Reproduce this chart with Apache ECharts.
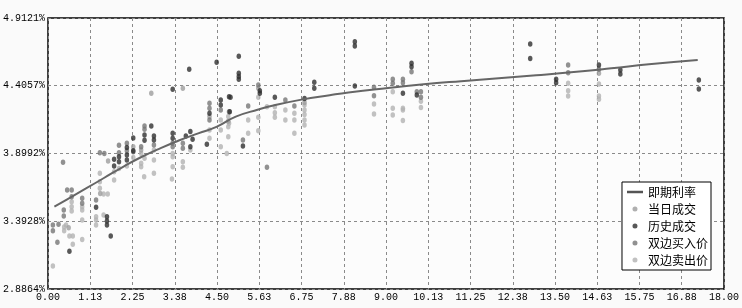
<!DOCTYPE html>
<html><head><meta charset="utf-8">
<script src="https://cdn.jsdelivr.net/npm/echarts@6/dist/echarts.min.js"></script>
<style>html,body{margin:0;padding:0;background:#fafafa}#c{width:742px;height:308px}</style>
</head><body><div id="c"></div>
<script>
var seriesNames = ['即期利率','当日成交','历史成交','双边买入价','双边卖出价'];
var yTicks = [2.8864, 3.3928, 3.8992, 4.4057, 4.9121];

var curve = [[0.17,3.502],[0.5,3.555],[1.0,3.636],[1.5,3.718],[2.0,3.800],[2.5,3.875],[3.0,3.940],[3.5,3.998],[4.0,4.050],[4.5,4.100],[5.0,4.175],[5.6,4.228],[6.0,4.258],[6.75,4.302],[7.5,4.335],[8.0,4.355],[9.0,4.387],[10.0,4.416],[11.0,4.440],[12.0,4.462],[13.0,4.484],[14.0,4.508],[15.0,4.536],[16.0,4.566],[17.3,4.598]];

var todayTrades = [[1.60,3.843],[2.75,4.349],[3.59,4.387],[5.60,4.387],[14.67,4.499],[0.55,3.345],[2.48,3.925],[4.30,4.175],[6.83,4.28],[1.39,3.60],[2.27,3.95],[4.80,4.140]];

var histTrades = [[0.57,3.168],[1.28,3.497],[1.57,3.427],[1.57,3.395],[1.57,3.365],[1.67,3.282],[1.76,3.856],[1.76,3.806],[1.89,3.875],[1.89,3.838],[2.10,3.945],[2.27,3.920],[2.10,3.888],[2.10,3.851],[2.27,4.015],[2.57,4.037],[2.57,3.999],[2.75,4.105],[2.82,4.030],[2.82,4.000],[3.32,4.379],[3.76,4.529],[4.49,4.581],[3.32,4.050],[3.32,4.013],[3.67,4.030],[3.79,4.063],[3.85,4.005],[3.79,3.950],[4.23,3.969],[4.30,4.200],[4.60,4.299],[4.60,4.262],[4.82,4.324],[5.08,4.627],[5.08,4.499],[5.08,4.474],[5.08,4.454],[4.86,4.319],[4.84,4.212],[5.19,3.955],[5.64,4.369],[5.64,4.349],[6.04,4.319],[6.83,4.311],[7.09,4.431],[7.09,4.387],[8.17,4.735],[8.17,4.703],[8.17,4.404],[9.45,4.349],[9.68,4.573],[9.68,4.548],[9.82,4.336],[12.84,4.717],[12.84,4.610],[13.53,4.454],[13.53,4.429],[14.67,4.561],[15.24,4.523],[15.24,4.493],[17.33,4.449],[17.33,4.381]];

var bidQuotes = [[0.40,3.833],[0.13,3.365],[0.13,3.322],[0.28,3.370],[0.25,3.235],[0.42,3.432],[0.42,3.477],[0.51,3.626],[0.63,3.626],[0.63,3.576],[0.91,3.564],[0.91,3.527],[1.28,3.551],[1.38,3.905],[1.50,3.900],[1.89,3.960],[1.89,3.905],[2.10,3.975],[2.10,3.920],[2.27,3.913],[2.57,4.105],[2.57,4.080],[2.48,3.950],[2.82,3.962],[3.32,3.975],[3.32,3.950],[3.59,3.975],[3.59,3.938],[4.30,4.275],[4.30,4.237],[4.30,4.150],[4.60,4.224],[4.82,4.212],[5.19,4.000],[5.33,4.254],[5.60,4.411],[5.83,3.796],[6.32,4.299],[6.56,4.254],[8.68,4.394],[8.68,4.330],[9.18,4.454],[9.18,4.424],[9.45,4.454],[9.45,4.429],[9.68,4.511],[9.82,4.361],[9.93,4.361],[9.93,4.320],[13.85,4.561],[13.85,4.503],[14.67,4.529]];

var askQuotes = [[0.13,3.058],[0.43,3.35],[0.43,3.322],[0.48,3.365],[0.63,3.539],[0.63,3.502],[0.63,3.469],[0.57,3.282],[0.66,3.282],[0.66,3.220],[0.91,3.502],[0.91,3.477],[0.91,3.402],[0.91,3.257],[1.28,3.427],[1.28,3.402],[1.28,3.365],[1.38,3.751],[1.38,3.688],[1.38,3.639],[1.48,3.596],[1.59,3.596],[1.48,3.439],[1.76,3.763],[1.76,3.701],[1.89,3.788],[2.10,3.806],[2.27,3.870],[2.48,3.900],[2.57,3.863],[2.48,3.826],[2.48,3.800],[2.56,3.726],[2.82,3.925],[2.82,3.851],[2.82,3.751],[3.32,3.900],[3.32,3.875],[3.32,3.800],[3.30,3.708],[3.59,3.838],[3.59,3.796],[3.79,3.925],[4.30,4.075],[4.30,4.013],[4.60,4.150],[4.60,4.075],[4.60,3.950],[4.76,3.900],[4.82,4.125],[4.80,4.175],[4.80,4.100],[4.80,4.025],[5.33,4.150],[5.33,4.050],[5.60,4.319],[5.60,4.170],[5.60,4.070],[5.83,4.249],[6.04,4.249],[6.04,4.204],[6.04,4.170],[6.32,4.224],[6.32,4.150],[6.56,4.200],[6.56,4.150],[6.56,4.050],[6.83,4.262],[6.83,4.225],[6.83,4.190],[6.83,4.150],[6.83,4.112],[8.68,4.270],[8.68,4.194],[9.18,4.361],[9.18,4.237],[9.18,4.187],[9.45,4.237],[9.45,4.224],[9.45,4.145],[9.93,4.290],[9.93,4.244],[13.85,4.424],[13.85,4.369],[13.85,4.329],[14.67,4.419],[14.67,4.329],[14.67,4.304]];

var chart = echarts.init(document.getElementById('c'), null, {renderer:'canvas'});
var labelFont = {fontFamily:'Liberation Mono', fontSize:10, color:'#000'};
var dot = [4.5, 5.5];
chart.setOption({
  animation:false,
  backgroundColor:'#fafafa',
  grid:{left:46, right:14.5, top:18, bottom:19, show:true, borderColor:'#000', borderWidth:1.5, backgroundColor:'#fcfcfc'},
  xAxis:{type:'value', min:0, max:18, interval:1.125,
    axisLine:{show:false}, axisTick:{show:false},
    axisLabel:Object.assign({margin:3, formatter:function(v){return v.toFixed(2);}}, labelFont),
    splitLine:{show:true, lineStyle:{color:'#8a8a8a', type:[3,3], width:1}}},
  yAxis:{type:'value', min:yTicks[0], max:yTicks[yTicks.length-1],
    axisLine:{show:false},
    axisTick:{show:false, customValues:yTicks},
    axisLabel:Object.assign({margin:3, customValues:yTicks, formatter:function(v){return v.toFixed(4)+'%';}}, labelFont),
    splitLine:{show:true, lineStyle:{color:'#8a8a8a', type:[3,3], width:1}}},
  legend:{orient:'vertical', right:31, top:182, backgroundColor:'#fff', borderColor:'#000', borderWidth:1,
    padding:[4,3,4,5], itemGap:5, itemWidth:16, itemHeight:5,
    textStyle:{fontFamily:'Noto Sans CJK SC', fontSize:12, color:'#000'},
    data:[{name:seriesNames[0], icon:'path://M0,0L16,0L16,2.5L0,2.5Z', itemStyle:{color:'#555'}},{name:seriesNames[1],icon:'circle'},{name:seriesNames[2],icon:'circle'},{name:seriesNames[3],icon:'circle'},{name:seriesNames[4],icon:'circle'}]},
  series:[
    {name:seriesNames[4], type:'scatter', data:askQuotes, symbolSize:dot, itemStyle:{color:'#b2b2b2'}, z:2},
    {name:seriesNames[1], type:'scatter', data:todayTrades, symbolSize:dot, itemStyle:{color:'#9c9c9c'}, z:3},
    {name:seriesNames[3], type:'scatter', data:bidQuotes, symbolSize:dot, itemStyle:{color:'#767676'}, z:4},
    {name:seriesNames[2], type:'scatter', data:histTrades, symbolSize:dot, itemStyle:{color:'#2e2e2e'}, z:5},
    {name:seriesNames[0], type:'line', data:curve, smooth:true, symbol:'none', lineStyle:{color:'#666', width:2}, itemStyle:{color:'#666'}, z:6}
  ]
});
</script></body></html>
